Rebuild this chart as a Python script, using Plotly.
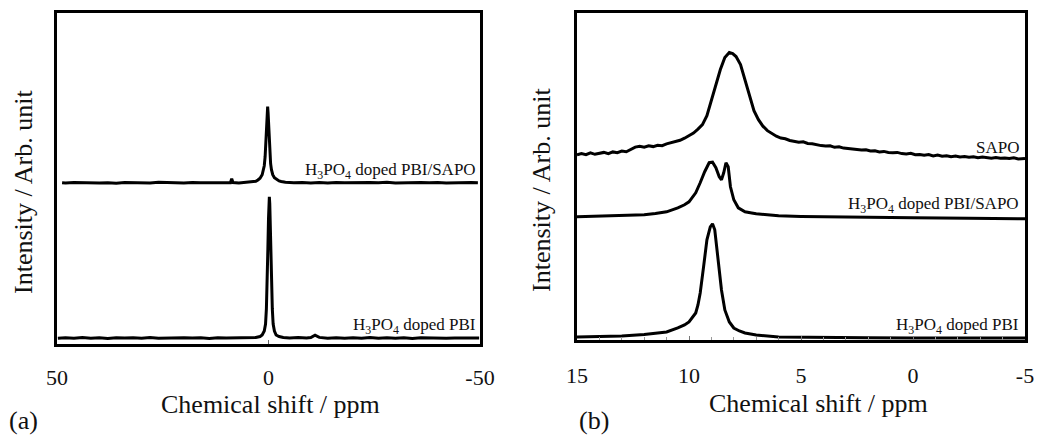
import plotly.graph_objects as go

W, H = 1037, 435

# ---------------- Panel (a) data ----------------
a_sapo_ppm = [48.8, 48, 46, 44, 42, 40, 38, 36, 34, 32, 30, 28, 26, 24, 22, 20, 18, 16, 14, 12, 10,
              9, 8.7, 8.4, 7, 6, 5, 4, 3, 2.5, 2, 1.5, 1.2, 1.0, 0.8, 0.6, 0.45, 0.3, 0.2, 0.1, 0,
              -0.15, -0.3, -0.5, -0.7, -1, -1.4, -2, -2.5, -3, -4, -6, -8, -10, -12, -14, -16, -18,
              -20, -22, -24, -26, -28, -30, -32, -34, -36, -38, -40, -42, -44, -46, -48, -49.5]
a_sapo_int = [161.0, 160.7, 161.2, 160.9, 161.3, 160.8, 161.1, 160.6, 161.2, 161.0, 161.3, 160.8,
              161.4, 160.9, 161.1, 160.7, 161.2, 160.9, 161.1, 160.8, 161.1,
              161.0, 165.0, 161.2, 160.8, 161.2, 161.0, 161.5, 162.5, 163.8, 165.5, 169.0, 173.0,
              178.0, 187.0, 200.0, 215.0, 230.0, 237.0, 231.0, 220.0,
              203.0, 190.0, 180.0, 174.0, 169.0, 166.0, 164.0, 162.8, 162.2, 161.5, 160.9, 161.3,
              160.8, 161.2, 160.7, 161.3, 160.9, 161.2, 160.8, 161.3, 161.0, 161.4, 160.8, 161.1,
              160.7, 161.2, 160.9, 161.3, 160.8, 161.1, 160.9, 161.2, 161.0]

a_pbi_ppm = [49.8, 48, 46, 44, 42, 40, 38, 36, 34, 32, 30, 28, 26, 24, 22, 20, 18, 16, 14, 12, 10,
             8, 6, 4, 3, 2, 1.5, 1.0, 0.7, 0.5, 0.3, 0.15, 0, -0.1, -0.2, -0.3, -0.4, -0.55, -0.7,
             -0.9, -1.1, -1.4, -1.8, -2.5, -3.5, -5, -7, -9, -10, -11, -12, -14, -16, -18, -20,
             -22, -24, -26, -28, -30, -32, -34, -36, -38, -40, -42, -44, -46, -48, -49.8]
a_pbi_int = [5.8, 6.3, 5.7, 6.4, 5.8, 6.2, 5.6, 6.3, 5.9, 6.2, 5.7, 6.4, 5.8, 6.1, 5.7, 6.3, 5.9,
             6.2, 5.6, 6.3, 5.9, 6.2, 6.0, 6.3, 6.5, 7.5, 9.0, 13.0, 20.0, 35.0, 60.0, 95.0, 125.0,
             140.0, 147.0, 140.0, 122.0, 90.0, 60.0, 35.0, 20.0, 13.0, 9.0, 7.5, 6.5, 6.1, 6.4,
             5.9, 6.5, 8.8, 6.6, 5.8, 6.3, 5.7, 6.2, 5.8, 6.4, 5.7, 6.2, 5.8, 6.3, 5.6, 6.2, 5.9,
             6.3, 5.7, 6.1, 5.8, 6.2, 5.9]

# ---------------- Panel (b) data ----------------
b_sapo_ppm = [15, 14.8, 14.6, 14.4, 14.2, 14, 13.8, 13.6, 13.4, 13.2, 13, 12.8, 12.6, 12.4, 12.2,
              12, 11.8, 11.6, 11.4, 11.2, 11, 10.8, 10.6, 10.4, 10.2, 10, 9.8, 9.6, 9.4, 9.2, 9.0,
              8.8, 8.6, 8.4, 8.2, 8.05, 7.9, 7.7, 7.5, 7.3, 7.1, 6.9, 6.7, 6.5, 6.3, 6.1, 5.9,
              5.7, 5.5, 5.3, 5.1, 4.9, 4.7, 4.5, 4.3, 4.1, 3.9, 3.7, 3.5, 3.3, 3.1, 2.9, 2.7, 2.5,
              2.3, 2.1, 1.9, 1.7, 1.5, 1.3, 1.1, 0.9, 0.7, 0.5, 0.3, 0.1, -0.1, -0.3, -0.5, -0.7,
              -0.9, -1.1, -1.3, -1.5, -1.7, -1.9, -2.1, -2.3, -2.5, -2.7, -2.9, -3.1, -3.3, -3.5,
              -3.7, -3.9, -4.1, -4.3, -4.5, -4.7, -5]
b_sapo_int = [184.8, 186.1, 185.0, 186.9, 185.4, 186.2, 187.3, 186.0, 187.8, 187.1, 188.6, 188.0,
              190.2, 192.6, 193.4, 192.5, 193.9, 193.1, 194.4, 194.0, 195.8, 196.9, 198.1, 199.4,
              201.5, 204.0, 206.6, 210.5, 215.0, 224.0, 240.0, 255.0, 270.0, 282.0, 287.0, 286.0,
              283.0, 275.0, 260.0, 243.0, 229.0, 220.0, 213.5, 209.0, 206.2, 203.5, 201.6, 200.9,
              199.2, 198.6, 197.4, 197.9, 196.2, 195.9, 194.8, 194.1, 193.6, 193.9, 192.4, 192.9,
              191.6, 191.0, 190.9, 190.1, 189.6, 190.0, 188.7, 188.9, 187.8, 188.3, 187.2, 186.9,
              187.3, 186.1, 185.8, 186.4, 185.0, 185.3, 184.4, 185.1, 183.8, 184.6, 183.5, 183.9,
              182.9, 183.6, 182.7, 183.1, 182.4, 183.0, 181.9, 182.6, 182.2, 181.6, 182.3, 181.4,
              181.8, 181.2, 181.9, 180.8, 181.3]

b_mix_ppm = [15, 14, 13, 12, 11.5, 11, 10.5, 10.2, 10, 9.85, 9.7, 9.5, 9.3, 9.1, 8.95, 8.8, 8.65,
             8.55, 8.45, 8.35, 8.25, 8.15, 8.0, 7.8, 7.5, 7.2, 7, 6.5, 6, 5, 4, 3, 2, 1, 0, -2.5, -5]
b_mix_int = [123.0, 123.5, 124.0, 125.0, 126.3, 128.0, 132.0, 135.0, 138.0, 142.0, 147.0, 157.0,
             168.0, 177.0, 177.5, 172.0, 163.0, 160.0, 167.0, 177.0, 173.0, 153.0, 140.0, 132.0,
             128.0, 126.8, 126.0, 125.0, 124.0, 123.4, 123.0, 122.6, 122.3, 122.1, 122.0, 121.5,
             121.0]

b_pbi_ppm = [15, 14, 13, 12, 11.5, 11, 10.5, 10.2, 10, 9.85, 9.7, 9.6, 9.5, 9.35, 9.2, 9.05,
             8.95, 8.85, 8.7, 8.55, 8.4, 8.3, 8.2, 8.0, 7.75, 7.5, 7, 6, 5, 4, 2, 0, -2.5, -5]
b_pbi_int = [3.0, 3.4, 4.0, 5.5, 6.5, 8.0, 12.0, 15.0, 18.0, 22.0, 27.0, 35.0, 47.0, 73.0,
             100.0, 113.0, 116.0, 110.0, 80.0, 50.0, 30.0, 23.0, 18.0, 12.0, 9.0, 7.0, 5.0, 3.0,
             3.0, 2.6, 2.3, 2.0, 2.0, 2.0]

# ---------------- text ----------------
x_title = "Chemical shift / ppm"
y_title = "Intensity / Arb. unit"
a_ticks = [50, 0, -50]
a_tick_labels = ["50", "0", "-50"]
b_ticks = [15, 10, 5, 0, -5]
b_tick_labels = ["15", "10", "5", "0", "-5"]
lab_mix = "H<sub>3</sub>PO<sub>4</sub> doped PBI/SAPO"
lab_pbi = "H<sub>3</sub>PO<sub>4</sub> doped PBI"
lab_sapo = "SAPO"

FONT = "Liberation Serif"
TXT = "#111111"
LINE = dict(color="black", width=3)

fig = go.Figure()
fig.add_trace(go.Scatter(x=a_sapo_ppm, y=a_sapo_int, mode="lines", line=LINE, xaxis="x", yaxis="y"))
fig.add_trace(go.Scatter(x=a_pbi_ppm, y=a_pbi_int, mode="lines", line=LINE, xaxis="x", yaxis="y"))
fig.add_trace(go.Scatter(x=b_sapo_ppm, y=b_sapo_int, mode="lines", line=LINE, xaxis="x2", yaxis="y2"))
fig.add_trace(go.Scatter(x=b_mix_ppm, y=b_mix_int, mode="lines", line=LINE, xaxis="x2", yaxis="y2"))
fig.add_trace(go.Scatter(x=b_pbi_ppm, y=b_pbi_int, mode="lines", line=LINE, xaxis="x2", yaxis="y2"))


def px(x):
    return x / W


def py(y):
    return 1 - y / H


axis_common = dict(showline=True, mirror=True, linecolor="black", linewidth=3,
                   showgrid=False, zeroline=False, automargin=False)

fig.update_layout(
    width=W, height=H,
    margin=dict(l=0, r=0, t=0, b=0, autoexpand=False),
    paper_bgcolor="white", plot_bgcolor="white",
    showlegend=False,
    font=dict(family=FONT, color=TXT),
    xaxis=dict(domain=[px(57), px(480)], range=[50, -50], tickvals=a_ticks, ticktext=a_tick_labels,
               ticks="inside", ticklen=4, tickwidth=1, tickcolor="#666",
               tickfont=dict(size=22, family=FONT, color=TXT), ticklabelstandoff=12,
               anchor="y", **axis_common),
    yaxis=dict(domain=[py(344), py(12.5)], range=[0, 331], showticklabels=False, ticks="",
               anchor="x", **axis_common),
    xaxis2=dict(domain=[px(577), px(1025)], range=[15, -5], tickvals=b_ticks, ticktext=b_tick_labels,
                ticks="inside", ticklen=4, tickwidth=1, tickcolor="#777",
                minor=dict(dtick=1, ticks="inside", ticklen=3, tickcolor="#999", tickwidth=1),
                tickfont=dict(size=22, family=FONT, color=TXT), ticklabelstandoff=14,
                anchor="y2", **axis_common),
    yaxis2=dict(domain=[py(340), py(12.5)], range=[0, 327], showticklabels=False, ticks="",
                anchor="x2", **axis_common),
)

ann = []


def add(text, x, y, size, xanchor="center", textangle=0):
    ann.append(dict(text=text, x=px(x), y=py(y), xref="paper", yref="paper",
                    xanchor=xanchor, yanchor="middle", showarrow=False, textangle=textangle,
                    font=dict(size=size, family=FONT, color=TXT)))


add(x_title, 270, 404, 26)
add(x_title, 818, 403, 26)
add(y_title, 23, 192, 26, textangle=-90)
add(y_title, 541, 190, 26, textangle=-90)
add("(a)", 23, 420, 26)
add("(b)", 594, 420, 26)
add(lab_mix, 478, 171, 17, xanchor="right")
add(lab_pbi, 478, 326, 17, xanchor="right")
add(lab_sapo, 1021, 147, 17, xanchor="right")
add(lab_mix, 1021, 205, 17, xanchor="right")
add(lab_pbi, 1021, 326, 17, xanchor="right")
fig.update_layout(annotations=ann)

fig.write_html("out.html", config={"displayModeBar": False},
               post_script="document.body.style.margin='0';document.body.style.overflow='hidden';")
